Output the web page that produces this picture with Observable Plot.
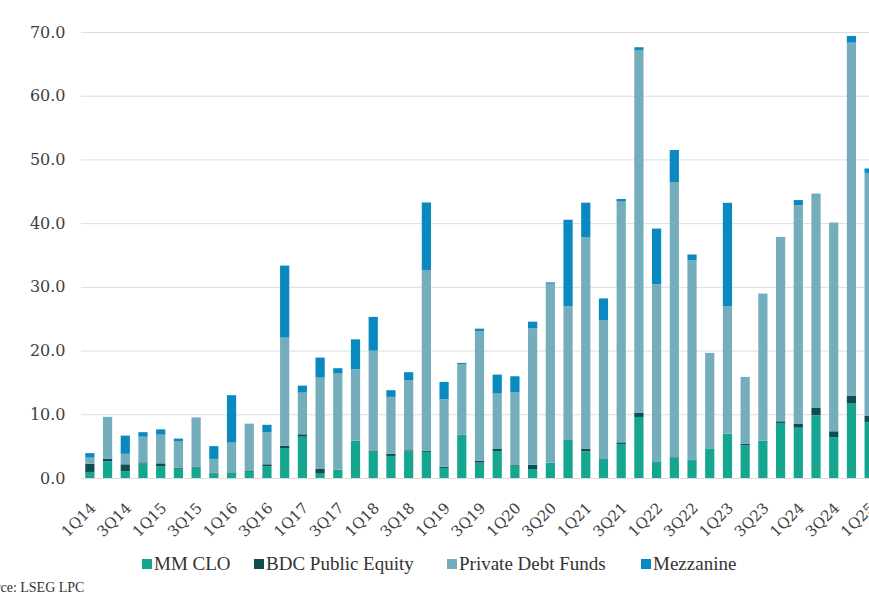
<!DOCTYPE html>
<html>
<head>
<meta charset="utf-8">
<script src="https://cdn.jsdelivr.net/npm/d3@7"></script>
<script src="https://cdn.jsdelivr.net/npm/@observablehq/plot@0.6"></script>
<style>
  html, body { margin: 0; padding: 0; background: #fff; overflow: hidden; }
  #wrap { position: relative; width: 869px; height: 608px; overflow: hidden; }
  #chart { position: absolute; left: 0; top: 0; width: 878px; }
  #chart svg { max-width: none !important; }
  .legend { position: absolute; top: 553px; left: 0; width: 869px; height: 22px; font-family: "Liberation Serif", serif; font-size: 19px; color: #333; }
  .legend .item { position: absolute; top: 0; white-space: nowrap; }
  .legend .sw { display: inline-block; width: 10px; height: 10px; margin-right: 2px; vertical-align: 1px; }
  .source { position: absolute; left: -26px; top: 580px; font-family: "Liberation Serif", serif; font-size: 14px; color: #333; white-space: nowrap; }
</style>
</head>
<body>
<div id="wrap">
  <div id="chart"></div>
  <div class="legend" id="legend"></div>
  <div class="source">Source: LSEG LPC</div>
</div>
<script>
const quarters = [
  "1Q14","2Q14","3Q14","4Q14","1Q15","2Q15","3Q15","4Q15",
  "1Q16","2Q16","3Q16","4Q16","1Q17","2Q17","3Q17","4Q17",
  "1Q18","2Q18","3Q18","4Q18","1Q19","2Q19","3Q19","4Q19",
  "1Q20","2Q20","3Q20","4Q20","1Q21","2Q21","3Q21","4Q21",
  "1Q22","2Q22","3Q22","4Q22","1Q23","2Q23","3Q23","4Q23",
  "1Q24","2Q24","3Q24","4Q24","1Q25"
];
const mmClo = [
  0.95,2.6,1.05,2.3,1.83,1.47,1.65,0.75,
  0.85,1.0,1.85,4.71,6.49,0.68,1.31,5.86,
  4.14,3.46,4.2,4.1,1.58,6.8,2.41,4.24,
  1.94,1.41,2.41,6.07,4.19,2.98,5.29,9.58,
  2.51,3.15,2.78,4.66,6.96,5.13,5.86,8.64,
  7.9,9.84,6.39,11.68,8.8
];
const bdcPublicEquity = [
  1.3,0.4,1.1,0.15,0.47,0.15,0.1,0.05,
  0.05,0.1,0.3,0.37,0.37,0.73,0,0,
  0.1,0.37,0.15,0.15,0.2,0,0.3,0.31,
  0.1,0.68,0,0,0.42,0,0.3,0.63,
  0,0.1,0.1,0,0,0.26,0,0.26,
  0.58,1.15,0.94,1.26,0.94
];
const privateDebtFunds = [
  0.95,6.6,1.65,4.04,4.5,4.14,7.75,2.2,
  4.65,7.43,5.0,16.96,6.54,14.35,15.08,11.2,
  15.75,8.9,11.0,28.4,10.6,11.06,20.37,8.7,
  11.46,21.4,28.1,20.9,33.15,21.8,37.8,56.97,
  27.9,43.14,31.31,14.97,20.0,10.47,23.09,28.95,
  34.35,33.66,32.77,55.39,38.16
];
const mezzanine = [
  0.7,0,2.85,0.7,0.84,0.42,0,2.0,
  7.45,0,1.2,11.3,1.1,3.14,0.84,4.7,
  5.3,1.05,1.26,10.6,2.7,0.2,0.36,2.98,
  2.47,1.05,0.2,13.56,5.45,3.4,0.4,0.43,
  8.74,5.08,0.89,0,16.23,0,0,0,
  0.79,0,0,1.05,0.68
];
const seriesNames = ["MM CLO","BDC Public Equity","Private Debt Funds","Mezzanine"];
const seriesColors = ["#15a690","#0d4e52","#74adbc","#0a88c0"];
const yTicks = [0,10,20,30,40,50,60,70];
const xTickLabels = quarters.filter((q, i) => i % 2 === 0);

const seriesValues = [mmClo, bdcPublicEquity, privateDebtFunds, mezzanine];
const rows = [];
seriesNames.forEach((name, s) => {
  quarters.forEach((q, i) => rows.push({quarter: q, series: name, value: seriesValues[s][i]}));
});

const chart = Plot.plot({
  width: 878,
  height: 550,
  marginLeft: 81,
  marginRight: 0,
  marginTop: 32,
  marginBottom: 72,
  style: {fontFamily: "'DejaVu Serif', serif", color: "#404040", background: "transparent", maxWidth: "none"},
  x: {type: "band", domain: quarters, paddingInner: 0.48, paddingOuter: 0.24, label: null},
  y: {domain: [0, 70], label: null},
  color: {domain: seriesNames, range: seriesColors},
  marks: [
    Plot.ruleY(yTicks, {stroke: "#dddddd", strokeWidth: 1}),
    Plot.barY(rows, {x: "quarter", y: "value", fill: "series"}),
    Plot.axisY({ticks: yTicks, tickFormat: d => d.toFixed(1), tickSize: 0, tickPadding: 16, fontSize: 16, label: null}),
    Plot.axisX({ticks: xTickLabels, tickSize: 0, tickPadding: 27, dx: 3, tickRotate: -45, fontSize: 15, label: null})
  ]
});
document.getElementById("chart").appendChild(chart);

const legend = document.getElementById("legend");
const legendLefts = [142, 254, 447, 641];
seriesNames.forEach((name, i) => {
  const item = document.createElement("span");
  item.className = "item";
  item.style.left = legendLefts[i] + "px";
  const sw = document.createElement("span");
  sw.className = "sw";
  sw.style.background = seriesColors[i];
  item.appendChild(sw);
  item.appendChild(document.createTextNode(name));
  legend.appendChild(item);
});
</script>
</body>
</html>
